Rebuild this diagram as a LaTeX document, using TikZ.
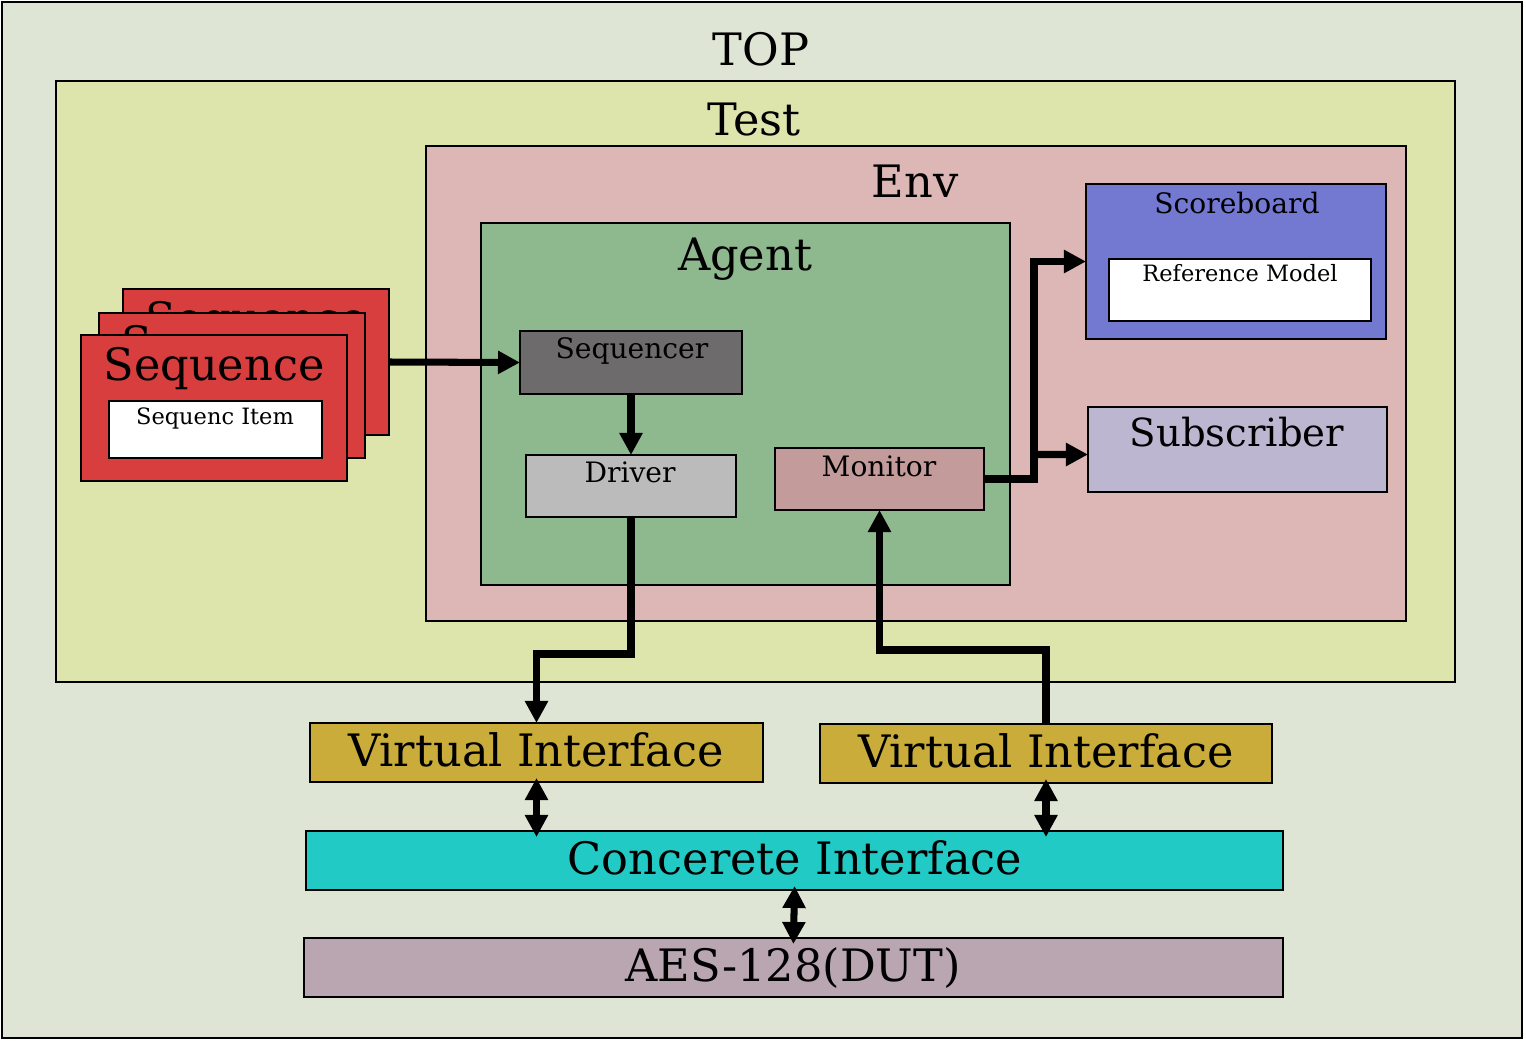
\documentclass[tikz,border=0pt]{standalone}
\usepackage{fontspec}
\setmainfont{DejaVu Serif}
\usepackage{tikz}
\usetikzlibrary{arrows.meta, fit, positioning}
\definecolor{topgrey}{RGB}{223, 229, 212}
\definecolor{testlime}{RGB}{221, 229, 173}
\definecolor{envpink}{RGB}{221, 182, 182}
\definecolor{agentgreen}{RGB}{142, 185, 143}
\definecolor{seqrgrey}{RGB}{109, 107, 108}
\definecolor{drvgrey}{RGB}{187, 187, 187}
\definecolor{monrose}{RGB}{196, 155, 155}
\definecolor{sbblue}{RGB}{115, 120, 208}
\definecolor{subliliac}{RGB}{189, 182, 209}
\definecolor{seqred}{RGB}{216, 62, 62}
\definecolor{vigold}{RGB}{201, 172, 58}
\definecolor{ciaqua}{RGB}{34, 202, 198}
\definecolor{dutmauve}{RGB}{185, 166, 177}

\begin{document}
\begin{tikzpicture}[x=0.01cm, y=-0.01cm,
    blk/.style={draw=black, line width=0.6pt, inner sep=0pt, outer sep=0pt},
    conn/.style={line width=2pt, -{Triangle[length=0.22cm, width=0.22cm]}},
    dconn/.style={line width=2pt, {Triangle[length=0.22cm, width=0.22cm]}-{Triangle[length=0.22cm, width=0.22cm]},
                  shorten <=-0.04cm, shorten >=-0.06cm},
    bigtxt/.style={font=\fontsize{12.7}{15}\selectfont, anchor=base, inner sep=0pt},
    subtxt/.style={font=\fontsize{11}{13}\selectfont, anchor=base, inner sep=0pt},
    midtxt/.style={font=\fontsize{8}{10}\selectfont, anchor=base, inner sep=0pt},
    smalltxt/.style={font=\fontsize{6.4}{8}\selectfont, anchor=base, inner sep=0pt}]
    \useasboundingbox (0,0) rectangle (1526,1042);

    % nested containers
    \node[blk, fill=topgrey, fit={(2,2) (1522,1038)}] (top) {};
    \node[bigtxt] (toplbl) at (761,65) {TOP};
    \node[blk, fill=testlime, fit={(56,81) (1455,682)}] (test) {};
    \node[bigtxt] (testlbl) at (754,135) {Test};
    \node[blk, fill=envpink, fit={(426,146) (1406,621)}] (env) {};
    \node[bigtxt] (envlbl) at (915,197) {Env};
    \node[blk, fill=agentgreen, fit={(481,223) (1010,585)}] (agent) {};
    \node[bigtxt] (agentlbl) at (745,270) {Agent};

    % agent parts
    \node[blk, fill=seqrgrey, fit={(520,331) (742,394)}] (seqr) {};
    \node[midtxt] (seqrlbl) at (632,358) {Sequencer};
    \node[blk, fill=drvgrey, fit={(526,455) (736,517)}] (drv) {};
    \node[midtxt] (drvlbl) at (630,482) {Driver};
    \node[blk, fill=monrose, fit={(775,448) (984,510)}] (mon) {};
    \node[midtxt] (monlbl) at (879,476) {Monitor};

    % scoreboard and subscriber
    \node[blk, fill=sbblue, fit={(1086,184) (1386,339)}] (sb) {};
    \node[midtxt] (sblbl) at (1237,213) {Scoreboard};
    \node[blk, fill=white, fit={(1109,259) (1371,321)}] (refm) {};
    \node[smalltxt] (refmlbl) at (1240,281) {Reference Model};
    \node[blk, fill=subliliac, fit={(1088,407) (1387,492)}] (sub) {};
    \node[subtxt] (sublbl) at (1237,446) {Subscriber};

    % stacked sequences
    \node[blk, fill=seqred, fit={(123,289) (389,435)}] (seqback) {};
    \node[bigtxt] (seqbacklbl) at (256,334) {Sequence};
    \node[blk, fill=seqred, fit={(99,313) (365,458)}] (seqmid) {};
    \node[bigtxt] (seqmidlbl) at (232,358) {Sequence};
    \node[blk, fill=seqred, fit={(81,335) (347,481)}] (seqfront) {};
    \node[bigtxt] (seqfrontlbl) at (214,380) {Sequence};
    \node[blk, fill=white, fit={(109,401) (322,458)}] (item) {};
    \node[smalltxt] (itemlbl) at (215,424) {Sequenc Item};

    % interfaces and DUT
    \node[blk, fill=vigold, fit={(310,723) (763,782)}] (viA) {};
    \node[bigtxt] (viAlbl) at (536,766) {Virtual Interface};
    \node[blk, fill=vigold, fit={(820,724) (1272,783)}] (viB) {};
    \node[bigtxt] (viBlbl) at (1046,767) {Virtual Interface};
    \node[blk, fill=ciaqua, fit={(306,831) (1283,890)}] (ci) {};
    \node[bigtxt] (cilbl) at (795,874) {Concerete Interface};
    \node[blk, fill=dutmauve, fit={(304,938) (1283,997)}] (dut) {};
    \node[bigtxt] (dutlbl) at (793,981) {AES-128(DUT)};

    % connectors
    \coordinate (drvlvl) at (0,654);
    \coordinate (monlvl) at (0,650);
    \coordinate (trunk) at (1034,0);
    \draw[conn] (seqback.east) -- (seqr.west);
    \draw[conn] (seqr.south) -- (drv.north);
    \draw[conn] (drv.south) -- (drv.south |- drvlvl) -- (viA.north |- drvlvl) -- (viA.north);
    \draw[conn] (viB.north) -- (viB.north |- monlvl) -- (mon.south |- monlvl) -- (mon.south);
    \draw[conn] (mon.east) -- (trunk |- mon.east) |- (sb.west);
    \draw[conn] (trunk |- sub.west) ++(0,5) -- ([yshift=-0.05cm]sub.west);
    \draw[dconn] (viA.south) -- (viA.south |- ci.north);
    \draw[dconn] (viB.south) -- (viB.south |- ci.north);
    \draw[dconn] (ci.south) -- (dut.north);
\end{tikzpicture}
\end{document}
